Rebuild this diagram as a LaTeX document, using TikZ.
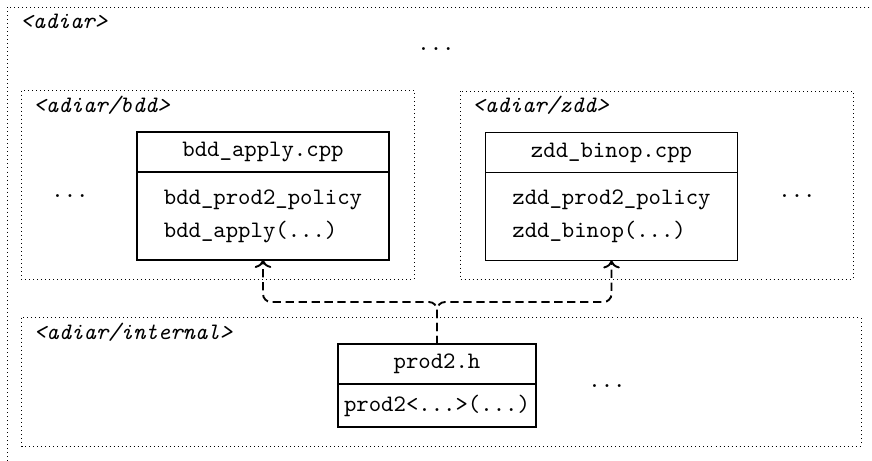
\documentclass[tikz,border=0pt]{standalone}
\usetikzlibrary{arrows.meta,positioning}

\begin{document}
\begin{tikzpicture}[
  x=0.4237pt, y=-0.4237pt,
  pkg/.style={dash pattern=on 0.4pt off 1.3pt, line width=0.4pt},
  pkglabel/.style={anchor=base west, inner sep=0pt, font=\ttfamily\itshape},
  filehead/.style={draw, semithick, outer sep=0pt, minimum width=106.8pt,
    minimum height=16.9pt, font=\ttfamily},
  filebody/.style={filehead, minimum height=37.3pt, align=left},
  more/.style={anchor=base, inner sep=0pt, font=\ttfamily},
  dep/.style={->, thick, dash pattern=on 3.5pt off 2pt, rounded corners=3.4pt}
]
  \useasboundingbox (0,0) rectangle (872,460);

  % outer package
  \coordinate (adiarNW) at (7,7);
  \coordinate (adiarSE) at (890,480);
  \draw[pkg] (adiarNW) rectangle (adiarSE);
  \node[pkglabel] (adiarlbl) at ([shift={(13,21)}]adiarNW) {<adiar>};
  \node[more] (adiarmore) at (436,50) {...};

  % bdd
  \coordinate (bddNW) at (21,90.5);
  \coordinate (bddSE) at (414,279);
  \draw[pkg] (bddNW) rectangle (bddSE);
  \node[pkglabel] (bddlbl) at ([shift={(12,21.5)}]bddNW) {<adiar/bdd>};
  \node[filehead] (bddhead) at (263,152) {bdd\_apply.cpp};
  \node[filebody, below=0pt of bddhead] (bddbody)
    {bdd\_prod2\_policy\\[2pt]bdd\_apply(...)};
  \node[more] (bddmore) at (70,197) {...};

  % zdd
  \coordinate (zddNW) at (460,91);
  \coordinate (zddSE) at (853,279);
  \draw[pkg] (zddNW) rectangle (zddSE);
  \node[pkglabel] (zddlbl) at ([shift={(12,21)}]zddNW) {<adiar/zdd>};
  \node[filehead] (zddhead) at (611.5,152.5) {zdd\_binop.cpp};
  \node[filebody, below=0pt of zddhead] (zddbody)
    {zdd\_prod2\_policy\\[2pt]zdd\_binop(...)};
  \node[more] (zddmore) at (797,197) {...};

  % internal
  \coordinate (intNW) at (21.5,317.5);
  \coordinate (intSE) at (861,446);
  \draw[pkg] (intNW) rectangle (intSE);
  \node[pkglabel] (intlbl) at ([shift={(12,21.5)}]intNW) {<adiar/internal>};
  \node[filehead, inner xsep=2pt, minimum width=83.9pt] (prodhead)
    at (437,364) {prod2.h};
  \node[filehead, inner xsep=2pt, minimum width=83.9pt, minimum height=18.2pt,
    below=0pt of prodhead] (prodbody) {prod2<...>(...)};
  \node[more] (intmore) at (607,387) {...};

  % dependencies
  \coordinate (split) at (437,302);
  \draw[dep] (prodhead.north) -- (split) -| (bddbody.south);
  \draw[dep] (prodhead.north) -- (split) -| (zddbody.south);
\end{tikzpicture}
\end{document}
